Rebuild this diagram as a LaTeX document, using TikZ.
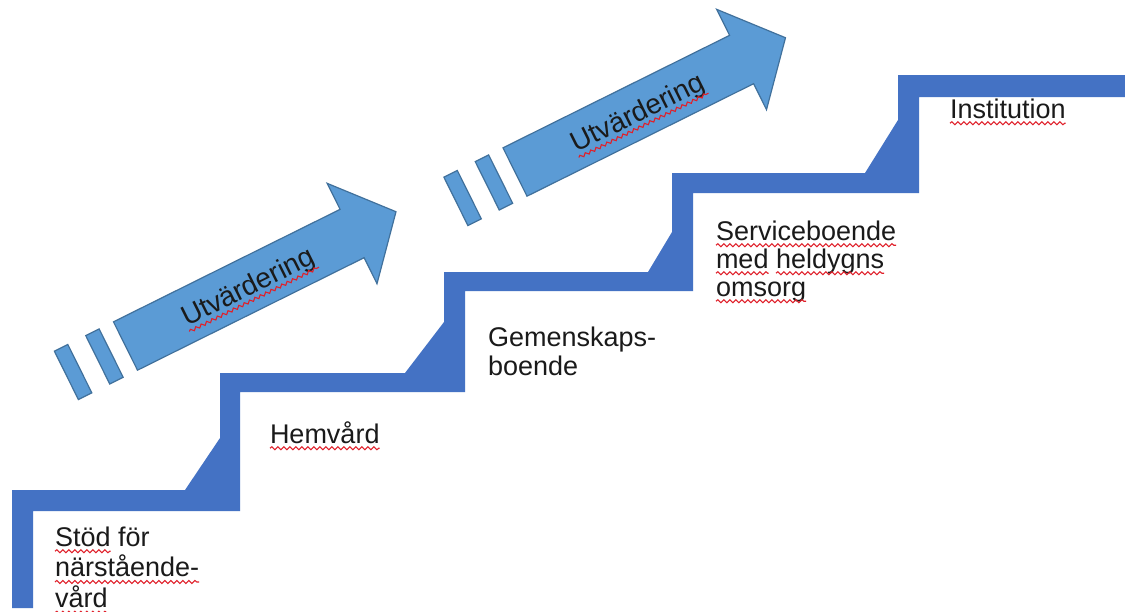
\documentclass[tikz,border=0pt]{standalone}
\usepackage{fontspec}
\setmainfont{Liberation Sans}
\usetikzlibrary{decorations.pathmorphing}
\definecolor{stair}{HTML}{4472C4}
\definecolor{arrowfill}{HTML}{5B9BD5}
\definecolor{arrowline}{HTML}{41719C}
\definecolor{squig}{HTML}{E0202A}
\definecolor{ink}{HTML}{1A1A1A}
\newlength\sqwidth
\newcommand\sq[1]{\settowidth\sqwidth{#1}\rlap{#1}\tikz[reset cm, baseline=0pt, x=1pt, y=1pt]{%
  \useasboundingbox (0,0) rectangle (\sqwidth,0);
  \draw[squig, line width=0.55pt, decorate, decoration={snake, amplitude=0.75pt, segment length=3pt}] (0,-2.6) -- (\sqwidth,-2.6);}}
\newcommand\stack[1]{\begin{tabular}[t]{@{}l@{}}#1\end{tabular}}
\tikzset{
  lbl/.style={anchor=base west, inner sep=0pt, outer sep=0pt, text=ink,
              font=\fontsize{13.5}{15}\selectfont},
  arrowshape/.style={fill=arrowfill, draw=arrowline, line width=0.6pt, line join=miter},
  stairs/.style={fill=stair, draw=none},
  arrowlbl/.style={inner sep=0pt, rotate=26.4, text=ink, font=\fontsize{14}{16}\selectfont},
}
\newcommand\evalarrow[2]{%
  \begin{scope}[shift={#1}, rotate=26.4]
    \draw[arrowshape] (0,-27) -- (253,-27) -- (253,-56) -- (302,0) -- (253,56) -- (253,27) -- (0,27) -- cycle;
    \draw[arrowshape] (-31,-27) rectangle (-16,27);
    \draw[arrowshape] (-66,-27) rectangle (-51,27);
    \node[arrowlbl] (#2) at (136,3) {\sq{Utvärdering}};
  \end{scope}}
\begin{document}
\begin{tikzpicture}[x=0.5pt, y=-0.5pt]
  \useasboundingbox (0,0) rectangle (1125,611);
  \fill[white] (0,0) rectangle (1125,611);
  % staircase
  \fill[stairs] (12,608) -- (12,490) -- (185,490) -- (220,438) -- (220,373)
     -- (405,373) -- (444,322) -- (444,272) -- (648,272) -- (672,232) -- (672,173)
     -- (865,173) -- (898,120) -- (898,75) -- (1125,75) -- (1125,97) -- (919,97)
     -- (919,193) -- (693,193) -- (693,291) -- (465,291) -- (465,392) -- (240,392)
     -- (240,511) -- (33,511) -- (33,608) -- cycle;
  % evaluation arrows
  \evalarrow{(125.5,346)}{u1}
  \evalarrow{(515,172)}{u2}
  % labels
  \node[lbl] (s1) at (55,546) {\stack{\sq{Stöd} för\\ \sq{närstående-}\\ \sq{vård}}};
  \node[lbl] (s2) at (270,443) {\sq{Hemvård}};
  \node[lbl, font=\fontsize{13.5}{14.5}\selectfont] (s3) at (488,346) {\stack{Gemenskaps-\\ boende}};
  \node[lbl, font=\fontsize{13.5}{14}\selectfont] (s4) at (716,240) {\stack{\sq{Serviceboende}\\ \sq{med} \sq{heldygns}\\ \sq{omsorg}}};
  \node[lbl] (s5) at (950,118) {\sq{Institution}};
\end{tikzpicture}
\end{document}
